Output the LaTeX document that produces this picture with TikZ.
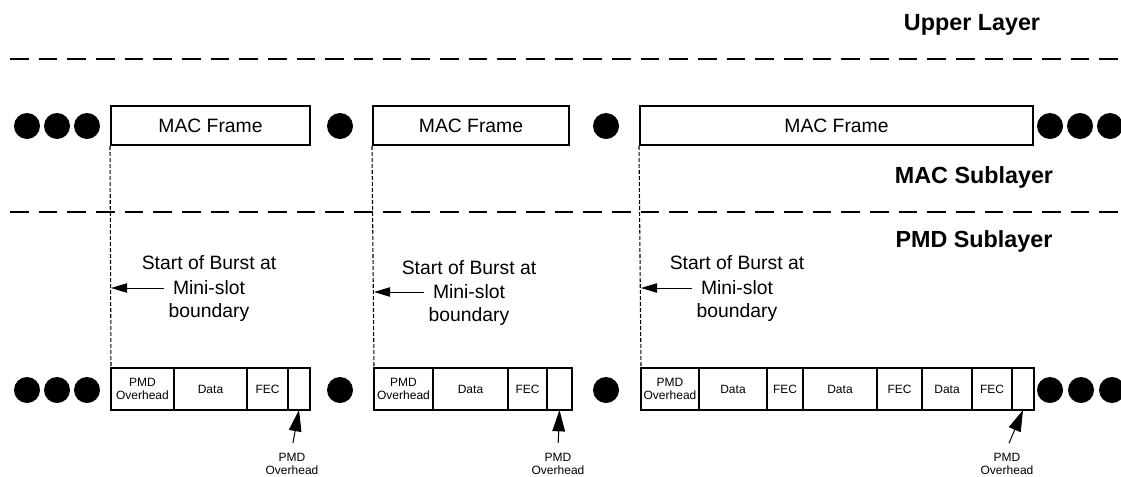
\documentclass[tikz,border=0pt]{standalone}
\usepackage{fontspec}
\setmainfont{Liberation Sans}
\usetikzlibrary{arrows.meta,positioning}

\begin{document}
\begin{tikzpicture}[x=0.75pt,y=-0.75pt,
    dot/.style={circle,fill=black,inner sep=0pt,minimum size=19.5pt},
    wd/.style={minimum width=#1*0.75pt},
    frame/.style={draw,line width=1.5pt,minimum height=29.25pt,inner sep=0pt,font=\fontsize{14.5}{18}\selectfont},
    seg/.style={draw,line width=1.5pt,minimum height=31.5pt,inner sep=0pt,outer sep=0pt,anchor=west,align=center,font=\fontsize{9}{9.75}\selectfont},
    layer/.style={font=\bfseries\fontsize{17.5}{21}\selectfont},
    note/.style={font=\fontsize{14.5}{18}\selectfont},
    small/.style={align=center,font=\fontsize{9}{9.75}\selectfont},
    sep/.style={line width=1.5pt,dash pattern=on 14pt off 7.5pt},
    slot/.style={line width=0.8pt,dash pattern=on 3pt off 1.5pt},
    burst/.style={line width=0.75pt,shorten <=3pt,-{Triangle[length=12pt,width=7pt]}},
    ohd/.style={line width=0.75pt,shorten <=4pt,-{Triangle[length=16pt,width=9.5pt]}}]
  \useasboundingbox (0,0) rectangle (1121,476);

  % layer separators
  \draw[sep] (10,59) -- (1121,59);
  \draw[sep] (10,212) -- (1121,212);

  \path
  (972,25) node[layer](upper) {Upper Layer}
  (974,177) node[layer](macl) {MAC Sublayer}
  (974,241) node[layer](pmdl) {PMD Sublayer}
  ;

  % MAC frames
  \path
  (210.5,125.5) node[frame,wd=199](mac1) {MAC Frame}
  (471,125.5) node[frame,wd=196](mac2) {MAC Frame}
  (836.5,125.5) node[frame,wd=393](mac3) {MAC Frame}
  ;
  \path
  (27,126) node[dot](d1) {}
  (57,126) node[dot](d2) {}
  (87,126) node[dot](d3) {}
  (340,126) node[dot](d4) {}
  (606,126) node[dot](d5) {}
  (1050,126) node[dot](d6) {}
  (1080,126) node[dot](d7) {}
  (1110,126) node[dot](d8) {}
  ;

  % PMD bursts
  \node[seg,wd=63] (s11) at (111,389) {PMD\\Overhead};
  \node[seg,wd=73,right=0pt of s11] (s12) {Data};
  \node[seg,wd=41,right=0pt of s12] (s13) {FEC};
  \node[seg,wd=22,right=0pt of s13] (s14) {};

  \node[seg,wd=59] (s21) at (374,389) {PMD\\Overhead};
  \node[seg,wd=75,right=0pt of s21] (s22) {Data};
  \node[seg,wd=39,right=0pt of s22] (s23) {FEC};
  \node[seg,wd=25,right=0pt of s23] (s24) {};

  \node[seg,wd=58] (s31) at (641,389) {PMD\\Overhead};
  \node[seg,wd=68,right=0pt of s31] (s32) {Data};
  \node[seg,wd=36,right=0pt of s32] (s33) {FEC};
  \node[seg,wd=74,right=0pt of s33] (s34) {Data};
  \node[seg,wd=45,right=0pt of s34] (s35) {FEC};
  \node[seg,wd=50,right=0pt of s35] (s36) {Data};
  \node[seg,wd=40,right=0pt of s36] (s37) {FEC};
  \node[seg,wd=22,right=0pt of s37] (s38) {};

  \path
  (27,390) node[dot](e1) {}
  (57,390) node[dot](e2) {}
  (87,390) node[dot](e3) {}
  (340,390) node[dot](e4) {}
  (606,390) node[dot](e5) {}
  (1050,390) node[dot](e6) {}
  (1081,390) node[dot](e7) {}
  (1112,390) node[dot](e8) {}
  ;

  % slot boundaries
  \draw[slot] (mac1.south west) -- (s11.north west);
  \draw[slot] (mac2.south west) -- (s21.north west);
  \draw[slot] (mac3.south west) -- (s31.north west);

  \path
  (209,263) node[note](sob1) {Start of Burst at}
  (209,288) node[note](ms1) {Mini-slot}
  (209,312) node[note](bd1) {boundary}
  (469,268) node[note](sob2) {Start of Burst at}
  (469,292) node[note](ms2) {Mini-slot}
  (469,316) node[note](bd2) {boundary}
  (737,263) node[note](sob3) {Start of Burst at}
  (737,288) node[note](ms3) {Mini-slot}
  (737,312) node[note](bd3) {boundary}
  ;
  \draw[burst] (ms1.west) -- (ms1.west -| s11.west);
  \draw[burst] (ms2.west) -- (ms2.west -| s21.west);
  \draw[burst] (ms3.west) -- (ms3.west -| s31.west);

  \path
  (292,463.5) node[small](oh1) {PMD\\Overhead}
  (558,463.5) node[small](oh2) {PMD\\Overhead}
  (1007,463.5) node[small](oh3) {PMD\\Overhead}
  ;
  \draw[ohd] (oh1.north) -- (s14.south);
  \draw[ohd] (oh2.north) -- (s24.south);
  \draw[ohd] (oh3.north) -- (s38.south);
\end{tikzpicture}
\end{document}
